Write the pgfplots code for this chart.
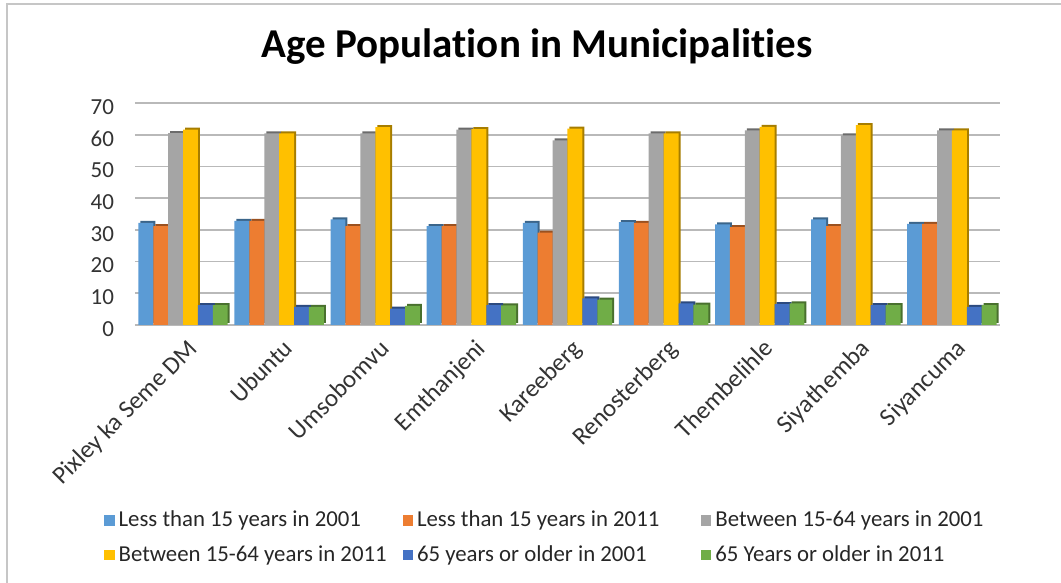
\documentclass[border=0pt]{standalone}
\usepackage{pgfplots}
\pgfplotsset{compat=1.18}
\usepackage{pgfplotstable}
\usepackage{fontspec}
\setmainfont[Ligatures={NoCommon,NoContextual}]{Carlito}
\definecolor{c1}{HTML}{5B9BD5}
\definecolor{c2}{HTML}{ED7D31}
\definecolor{c3}{HTML}{A5A5A5}
\definecolor{c4}{HTML}{FFC000}
\definecolor{c5}{HTML}{4472C4}
\definecolor{c6}{HTML}{70AD47}
\pgfplotstableread{
x a b c d e f
0 32.2 31.2 60.5 61.6 6.3 6.3
1 32.8 32.8 60.4 60.4 5.7 5.7
2 33.3 31.2 60.4 62.4 5.2 6.0
3 31.2 31.2 61.6 61.8 6.3 6.2
4 32.2 29.1 58.2 61.9 8.4 8.0
5 32.4 32.2 60.4 60.4 6.8 6.4
6 31.7 30.9 61.4 62.5 6.6 6.8
7 33.3 31.2 59.8 63.0 6.3 6.3
8 31.9 31.9 61.4 61.4 5.7 6.3
}\data
\newcommand{\lt}[1]{\makebox[138pt][l]{#1}}
\begin{document}
\begin{tikzpicture}
\useasboundingbox (0,0) rectangle (530.5pt,291.5pt);
\draw[gray!45, line width=0.8pt] (3.5pt,0) -- (3.5pt,289.5pt) -- (530.5pt,289.5pt);
\node[font=\bfseries\fontsize{20.5}{24}\selectfont] at (268.5pt,268pt) {Age Population in Municipalities};
\begin{axis}[
  at={(67.5pt,129pt)}, anchor=south west,
  scale only axis, width=432.5pt, height=111pt,
  xmin=-0.5, xmax=8.5, ymin=0, ymax=70,
  ytick={0,10,...,70},
  xtick={0,...,8},
  xticklabels={Pixley ka Seme DM,Ubuntu,Umsobomvu,Emthanjeni,Kareeberg,Renosterberg,Thembelihle,Siyathemba,Siyancuma},
  xticklabel style={rotate=45, anchor=north east, font=\fontsize{12.5}{14}\selectfont, text=black!80, yshift=-2pt},
  yticklabel style={font=\fontsize{11.5}{13}\selectfont, text=black!80, xshift=-7pt, yshift=-2pt},
  /pgf/number format/assume math mode=true,
  major tick length=0pt,
  axis line style={draw=none},
  ymajorgrids, grid style={gray!55, line width=0.9pt},
  ybar=0pt, bar width=0.155,
  clip=false,
  legend columns=3,
  legend style={at={(-0.043,-0.80)}, anchor=north west, draw=none, fill=none,
    font=\fontsize{11.4}{13}\selectfont, text=black!85,
    /tikz/every even column/.append style={column sep=2pt},
    row sep=4pt},
  legend cell align=left,
  legend image code/.code={\fill[#1] (0pt,-2.6pt) rectangle (5.2pt,2.6pt);},
]
\addplot[fill=c1!65!black, draw=none, bar shift=-0.3875, xshift=1pt, yshift=1pt, forget plot] table[x=x,y=a]{\data};
\addplot[fill=c1, draw=none, bar shift=-0.3875] table[x=x,y=a]{\data};
\addplot[fill=c2!65!black, draw=none, bar shift=-0.2325, xshift=1pt, yshift=1pt, forget plot] table[x=x,y=b]{\data};
\addplot[fill=c2, draw=none, bar shift=-0.2325] table[x=x,y=b]{\data};
\addplot[fill=c3!65!black, draw=none, bar shift=-0.0775, xshift=1pt, yshift=1pt, forget plot] table[x=x,y=c]{\data};
\addplot[fill=c3, draw=none, bar shift=-0.0775] table[x=x,y=c]{\data};
\addplot[fill=c4!65!black, draw=none, bar shift=0.0775, xshift=1pt, yshift=1pt, forget plot] table[x=x,y=d]{\data};
\addplot[fill=c4, draw=none, bar shift=0.0775] table[x=x,y=d]{\data};
\addplot[fill=c5!65!black, draw=none, bar shift=0.2325, xshift=1pt, yshift=1pt, forget plot] table[x=x,y=e]{\data};
\addplot[fill=c5, draw=none, bar shift=0.2325] table[x=x,y=e]{\data};
\addplot[fill=c6!65!black, draw=none, bar shift=0.3875, xshift=1pt, yshift=1pt, forget plot] table[x=x,y=f]{\data};
\addplot[fill=c6, draw=none, bar shift=0.3875] table[x=x,y=f]{\data};
\legend{\lt{Less than 15 years in 2001},\lt{Less than 15 years in 2011},\lt{Between 15-64 years in 2001},\lt{Between 15-64 years in 2011},\lt{65 years or older in 2001},\lt{65 Years or older in 2011}}
\end{axis}
\end{tikzpicture}
\end{document}
